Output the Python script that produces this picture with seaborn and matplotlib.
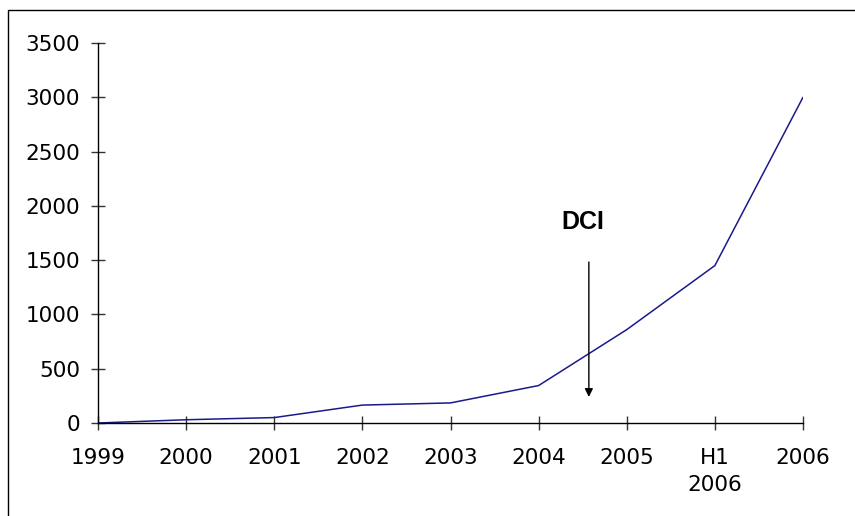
import matplotlib
matplotlib.use("Agg")
import matplotlib.pyplot as plt
from matplotlib.patches import Rectangle
import seaborn as sns
import pandas as pd

categories = ["1999", "2000", "2001", "2002", "2003", "2004", "2005", "H1\n2006", "2006"]
values = [0, 30, 50, 165, 185, 345, 860, 1450, 3000]
y_ticks = [0, 500, 1000, 1500, 2000, 2500, 3000, 3500]
annotation_text = "DCI"

sns.set_theme(style="white")
plt.rcParams["font.family"] = ["DejaVu Sans"]

df = pd.DataFrame({"pos": range(len(categories)), "value": values})

fig = plt.figure(figsize=(8.55, 5.16), dpi=100)
ax = fig.add_axes([98 / 855, 1 - 423 / 516, 705 / 855, 380 / 516])

sns.lineplot(data=df, x="pos", y="value", ax=ax, color="#1a1a8c", linewidth=1.1)

ax.set_xlim(0, len(categories) - 1)
ax.set_ylim(0, 3500)
ax.set_xticks(range(len(categories)))
ax.set_xticklabels(categories, fontsize=15.5, linespacing=1.45)
ax.set_yticks(y_ticks)
ax.set_yticklabels([str(v) for v in y_ticks], fontsize=15.5)
ax.set_xlabel("")
ax.set_ylabel("")

for side in ["top", "right"]:
    ax.spines[side].set_visible(False)
for side in ["left", "bottom"]:
    ax.spines[side].set_color("black")
    ax.spines[side].set_linewidth(1.0)

ax.tick_params(axis="both", direction="inout", length=10, width=1.0, color="#333333",
               labelcolor="black", bottom=True, left=True)
ax.tick_params(axis="y", pad=8)
ax.tick_params(axis="x", pad=13)
ax.grid(False)

ax.annotate("", xy=(5.57, 240), xytext=(5.57, 1483),
            arrowprops=dict(arrowstyle="-|>", color="black", lw=1.0, mutation_scale=12,
                            shrinkA=0, shrinkB=0))
ax.text(5.50, 1851, annotation_text, ha="center", va="center", fontsize=18,
        fontweight="bold", family=["Liberation Sans", "DejaVu Sans"], color="black")

fig.patches.append(Rectangle((8 / 855, -0.2), 2, (1 - 10 / 516) + 0.2,
                             transform=fig.transFigure, fill=False,
                             edgecolor="black", linewidth=1.0))

fig.savefig("out.png", dpi=100, facecolor="white")
